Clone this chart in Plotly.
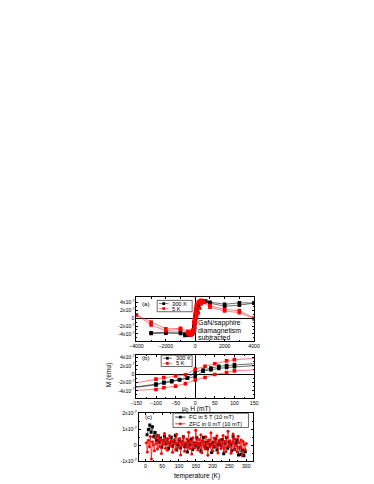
import plotly.graph_objects as go

W, H = 374, 484

# ---------------- data ----------------
# panels (a) and (b): field (mT) and moment (units of 1e-7 emu)
h300_down = [4000, 3000, 2000, 1000, 700, 500, 300, 200, 100, 80, 60, 40, 20, 0,
             -20, -40, -60, -80, -100, -200, -300, -500, -700, -1000, -2000, -3000]
m300_down = [3.8, 3.9, 3.5, 4.0, 4.3, 4.4, 3.9, 2.8, 2.3, 2.1, 1.9, 1.5, 1.0, 0.5,
             -0.9, -1.3, -1.6, -2.0, -2.4, -3.8, -4.1, -4.3, -4.4, -3.9, -3.8, -3.9]
h300_up = [-3000, -2000, -1000, -700, -500, -300, -200, -100, -80, -60, -40, -20, 0,
           20, 40, 60, 80, 100, 200, 300, 500, 700, 1000, 2000, 3000, 4000]
m300_up = [-3.7, -3.6, -3.5, -4.0, -4.3, -4.0, -3.7, -2.6, -2.1, -1.8, -1.4, -1.0, -0.6,
           0.7, 1.1, 1.4, 1.6, 1.8, 2.6, 3.8, 4.3, 4.2, 3.8, 3.0, 3.3, 3.8]

h5_down = [4000, 3000, 2000, 1000, 600, 400, 300, 200, 100, 80, 50, 25, 0,
           -25, -50, -80, -100, -200, -300, -400, -500, -1000, -2000, -3000, -4000]
m5_down = [0.0, 1.9, 2.2, 3.2, 4.3, 4.5, 4.3, 4.1, 3.5, 3.2, 2.5, 1.9, 1.2,
           -0.15, -0.45, -0.85, -1.2, -3.1, -3.5, -3.8, -3.3, -2.6, -2.7, -1.0, 0.8]
h5_up = [-4000, -3000, -2000, -1000, -500, -400, -300, -200, -100, -80, -50, -25, 0,
         25, 50, 80, 100, 200, 300, 400, 600, 1000, 2000, 3000, 4000]
m5_up = [0.8, -1.7, -3.2, -2.8, -3.9, -4.2, -4.3, -4.1, -3.7, -3.3, -2.9, -2.3, -1.4,
         -0.8, -0.1, 0.4, 0.8, 1.3, 2.5, 3.6, 4.0, 2.8, 1.8, 1.4, -0.2]

# panel (c): temperature (K) and moment (units of 1e-8 emu)
t_fc = list(range(5, 301, 4))
m_fc = [6.5, 9.8, 12.6, 8.1, 11.4, 5.2, 7.9, 3.1, 6.0, 1.8,
        4.4, -1.2, 2.7, 5.6, 0.9, 3.8, -2.1, 1.5, 4.9, -0.6,
        2.3, 6.1, -3.0, 0.4, 3.3, -1.8, 2.0, 5.2, -0.9, 1.1,
        -4.2, 2.8, 0.2, 3.9, -2.6, 1.4, -0.3, 4.6, -1.5, 0.8,
        -3.7, 2.4, 5.0, -0.8, 1.7, -2.2, 3.1, 0.5, -4.5, 1.9,
        -1.1, 4.1, -2.9, 0.6, 2.6, -0.4, 3.5, -5.3, 1.2, 4.8,
        -1.9, 2.1, 0.1, -3.4, 5.4, -2.5, 1.6, 3.2, -6.1, -1.4,
        -5.8, -3.0, -6.6, -4.1]
t_zfc = list(range(3, 301, 3))
m_zfc = [1.5, -4.2, 3.1, -1.0, 5.4, -8.5, 2.2, 0.3, -3.5, 4.6,
         1.1, -2.4, 6.2, -0.8, 3.7, -5.1, 2.9, 0.6, 7.3, -1.9,
         4.0, -3.2, 1.8, 5.9, -0.5, 2.6, -4.4, 3.3, 0.9, -2.7,
         6.8, 1.4, -1.3, 4.2, -6.0, 2.0, 0.2, 5.1, -3.8, 1.6,
         3.9, -0.9, 8.1, -2.1, 2.4, -5.5, 4.7, 0.7, -1.6, 9.3,
         1.2, -3.0, 3.6, -0.2, 6.5, -4.7, 2.8, 0.4, -2.3, 5.3,
         1.0, -6.3, 3.0, -1.1, 7.7, 0.1, -3.6, 4.4, 2.1, -0.7,
         5.8, -4.9, 1.9, 3.4, -2.0, 0.8, 6.0, -1.7, 2.5, -3.9,
         4.9, 8.6, -0.6, 2.7, -5.0, 1.3, 7.0, -2.6, 3.8, 0.0,
         -4.1, 5.5, 1.7, -1.4, 3.2, -6.5, 2.3, 0.5, -2.8, 1.0]

m_ticks_ab = [-4e-7, -2e-7, 0, 2e-7, 4e-7]
m_ticktext_ab = ["-4x10<sup>-7</sup>", "-2x10<sup>-7</sup>", "0",
                 "2x10<sup>-7</sup>", "4x10<sup>-7</sup>"]
m_ticks_c = [-1e-7, 0, 1e-7, 2e-7]
m_ticktext_c = ["-1x10<sup>-7</sup>", "0", "1x10<sup>-7</sup>", "2x10<sup>-7</sup>"]

# ---------------- style ----------------
FONT = "Liberation Sans, Arial, sans-serif"
BLK_LINE = "rgba(40,40,40,0.85)"
RED_LINE = "rgba(255,40,40,0.75)"
RED = "rgb(255,0,0)"

S = 1.167          # layout scale
OX, OY = 96, 288   # where the chart's top-left reference point sits


def px(x):
    return (OX + (x - 8) * S) / W


def py(y):
    return 1 - (OY + (y - 293) * 1.0) / H


FS = 1.1  # font scale

fig = go.Figure()

loop300_h = h300_down + h300_up
loop300_m = [v * 1e-7 for v in m300_down + m300_up]
loop5_h = h5_down + h5_up
loop5_m = [v * 1e-7 for v in m5_down + m5_up]

for xa, ya in [("x", "y"), ("x2", "y2")]:
    fig.add_trace(go.Scatter(x=loop300_h, y=loop300_m, xaxis=xa, yaxis=ya, mode="lines+markers",
                             line=dict(color=BLK_LINE, width=0.8),
                             marker=dict(symbol="square", size=3.6, color="black"),
                             showlegend=False))
    fig.add_trace(go.Scatter(x=loop5_h, y=loop5_m, xaxis=xa, yaxis=ya, mode="lines+markers",
                             line=dict(color=RED_LINE, width=0.8),
                             marker=dict(symbol="square", size=3.6, color=RED),
                             showlegend=False))

fig.add_trace(go.Scatter(x=t_fc, y=[v * 1e-8 for v in m_fc], xaxis="x3", yaxis="y3",
                         mode="lines+markers",
                         line=dict(color="rgba(0,0,0,0.9)", width=0.7),
                         marker=dict(symbol="square", size=3, color="black"),
                         showlegend=False))
fig.add_trace(go.Scatter(x=t_zfc, y=[v * 1e-8 for v in m_zfc], xaxis="x3", yaxis="y3",
                         mode="lines+markers",
                         line=dict(color=RED, width=0.7),
                         marker=dict(symbol="circle", size=3, color=RED),
                         showlegend=False))

# ---------------- axes ----------------
xdom = [px(33.5), px(138)]
xdom_c = [px(35.5), px(137)]
dom_a = [py(339), py(295)]
dom_b = [py(397), py(353)]
dom_c = [py(461), py(412)]

common = dict(showline=True, linecolor="black", linewidth=0.8, mirror="ticks",
              ticks="inside", ticklen=2, tickwidth=0.6, tickcolor="black",
              showgrid=False, tickfont=dict(family=FONT, size=5.2, color="black"))

fig.update_layout(
    width=W, height=H, margin=dict(l=0, r=0, t=0, b=0),
    paper_bgcolor="white", plot_bgcolor="white",
    font=dict(family=FONT, color="black"),
    xaxis=dict(domain=xdom, anchor="y", range=[-4000, 4000],
               tickvals=[-4000, -2000, 0, 2000, 4000],
               minor=dict(ticks="inside", ticklen=1.2, dtick=1000, tickcolor="black"),
               zeroline=True, zerolinecolor="black", zerolinewidth=0.9, **common),
    yaxis=dict(domain=dom_a, anchor="x", range=[-5.75e-7, 5.25e-7],
               tickvals=m_ticks_ab, ticktext=m_ticktext_ab,
               minor=dict(ticks="inside", ticklen=1.2, dtick=1e-7, tickcolor="black"),
               zeroline=True, zerolinecolor="black", zerolinewidth=0.9, **common),
    xaxis2=dict(domain=xdom, anchor="y2", range=[-150, 150],
                tickvals=[-150, -100, -50, 0, 50, 100, 150],
                minor=dict(ticks="inside", ticklen=1.2, dtick=25, tickcolor="black"),
                zeroline=True, zerolinecolor="black", zerolinewidth=0.9, **common),
    yaxis2=dict(domain=dom_b, anchor="x2", range=[-5.8e-7, 4.7e-7],
                tickvals=m_ticks_ab, ticktext=m_ticktext_ab,
                minor=dict(ticks="inside", ticklen=1.2, dtick=1e-7, tickcolor="black"),
                zeroline=True, zerolinecolor="black", zerolinewidth=0.9, **common),
    xaxis3=dict(domain=xdom_c, anchor="y3", range=[-20, 320],
                tickvals=[0, 50, 100, 150, 200, 250, 300],
                minor=dict(ticks="inside", ticklen=1.2, dtick=25, tickcolor="black"),
                zeroline=False, **common),
    yaxis3=dict(domain=dom_c, anchor="x3", range=[-1e-7, 2e-7],
                tickvals=m_ticks_c, ticktext=m_ticktext_c,
                minor=dict(ticks="inside", ticklen=1.2, dtick=5e-8, tickcolor="black"),
                zeroline=False, **common),
)

shapes = []
annotations = []


def text(x, y, s, size=5.5, xanchor="left", angle=0):
    annotations.append(dict(x=px(x), y=py(y), xref="paper", yref="paper", text=s,
                            showarrow=False, xanchor=xanchor, yanchor="middle",
                            textangle=angle, font=dict(family=FONT, size=size * FS, color="black")))


def legend_box(x0, y0, x1, y1, entries, size=5.2):
    shapes.append(dict(type="rect", xref="paper", yref="paper", x0=px(x0), x1=px(x1),
                       y0=py(y1), y1=py(y0), line=dict(color="black", width=0.6),
                       fillcolor="white", layer="above"))
    for (yy, lx0, lx1, col, lcol, sym, label) in entries:
        shapes.append(dict(type="line", xref="paper", yref="paper", x0=px(lx0), x1=px(lx1),
                           y0=py(yy), y1=py(yy), line=dict(color=lcol, width=0.8), layer="above"))
        mx = (lx0 + lx1) / 2
        r = 1.2
        shapes.append(dict(type="rect" if sym == "square" else "circle", xref="paper", yref="paper",
                           x0=px(mx - r), x1=px(mx + r), y0=py(yy + r * S), y1=py(yy - r * S),
                           line=dict(color=col, width=0), fillcolor=col, layer="above"))
        text(lx1 + 1.5, yy, label, size=size)


legend_box(52, 298, 83, 309.5, [
    (301.3, 53.5, 62, "black", BLK_LINE, "square", "300 K"),
    (306.3, 53.5, 62, RED, RED_LINE, "square", "5 K"),
])
legend_box(55.5, 353.5, 83, 365, [
    (356.6, 57, 65, "black", BLK_LINE, "square", "300 K"),
    (361.8, 57, 65, RED, RED_LINE, "square", "5 K"),
])
legend_box(66, 412.3, 133, 426.7, [
    (416.2, 68, 77, "black", "black", "square", "FC in 5 T (10 mT)"),
    (423.0, 68, 77, RED, RED, "circle", "ZFC in 0 mT (10 mT)"),
])

text(37, 301.5, "(a)", size=5.5)
text(37, 356, "(b)", size=5.5)
text(39, 416, "(c)", size=5.5)
text(86.5, 321, "GaN/sapphire", size=6.3)
text(86.5, 328.7, "diamagnetism", size=6.3)
text(86.5, 336, "subtracted", size=6.3)
text(10, 373, "M (emu)", size=6, xanchor="center", angle=-90)
text(87, 408.5, "\u03bc<sub>0</sub> H (mT)", size=6, xanchor="center")
text(87, 475.5, "temperature (K)", size=6, xanchor="center")

fig.update_layout(shapes=shapes, annotations=annotations)

fig.write_html("out.html")
